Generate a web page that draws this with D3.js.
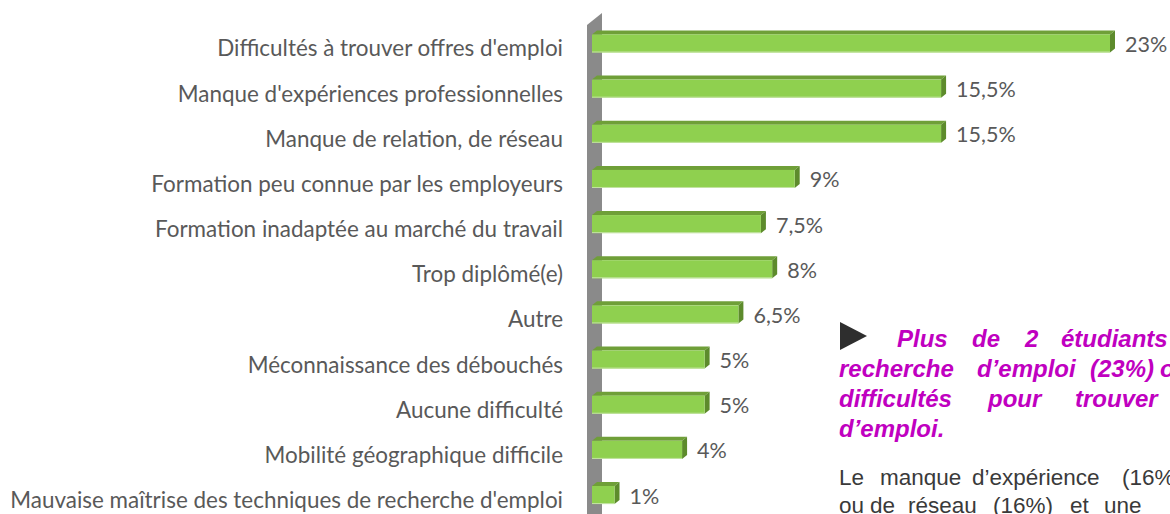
<!DOCTYPE html>
<html>
<head>
<meta charset="utf-8">
<script src="https://cdn.jsdelivr.net/npm/d3@7"></script>
<style>
  html, body { margin: 0; padding: 0; background: #ffffff; overflow: hidden; }
  svg { display: block; }
</style>
</head>
<body>
<svg id="chart" width="1170" height="514"></svg>
<script>
// Difficultés rencontrées dans la recherche d'emploi (% des étudiants)
const categories = [
  "Difficultés à trouver offres d'emploi",
  "Manque d'expériences professionnelles",
  "Manque de relation, de réseau",
  "Formation peu connue par les employeurs",
  "Formation inadaptée au marché du travail",
  "Trop diplômé(e)",
  "Autre",
  "Méconnaissance des débouchés",
  "Aucune difficulté",
  "Mobilité géographique difficile",
  "Mauvaise maîtrise des techniques de recherche d'emploi"
];
const values = [23, 15.5, 15.5, 9, 7.5, 8, 6.5, 5, 5, 4, 1];

// Commentary block beside the chart (justified lines, one word list per line)
const headlineLines = [
  ["Plus", "de", "2", "étudiants"],
  ["recherche", "d’emploi", "(23%)", "ont"],
  ["difficultés", "pour", "trouver"],
  ["d’emploi."]
];
const bodyLines = [
  ["Le", "manque", "d’expérience", "(16%)"],
  ["ou", "de", "réseau", "(16%)", "et", "une"]
];

const svg = d3.select("#chart");
const W = 1170, H = 514;

const fr = d3.formatLocale({ decimal: ",", thousands: " ", grouping: [3], currency: ["", " €"] });
const fmt = v => fr.format("~")(v) + "%";

// Scales
const x = d3.scaleLinear().domain([0, 23]).range([592, 1110]);
const y = d3.scaleBand().domain(categories).range([20.9, 517.6])
  .paddingInner(0.6).paddingOuter(0.3);

const depthX = 5, depthY = 4;
const colFront = "#8fd04f", colTop = "#6f9f38", colSide = "#5d8b2c";

// Side wall of the 3D plot
const wx0 = x(0) - 5, wx1 = x(0) + 10;
svg.append("polygon")
  .attr("points", [[wx0, 25], [wx1, 13], [wx1, H], [wx0, H]].map(p => p.join(",")).join(" "))
  .attr("fill", "#8a8a8a");

// 3D bars
const bars = svg.append("g").selectAll("g").data(categories).join("g");
bars.each(function (c, i) {
  const g = d3.select(this);
  const x0 = x(0), x1 = x(values[i]);
  const y0 = y(c), h = y.bandwidth();
  g.append("polygon")
    .attr("points", [[x0, y0], [x0 + depthX, y0 - depthY], [x1 + depthX, y0 - depthY], [x1, y0]].map(p => p.join(",")).join(" "))
    .attr("fill", colTop);
  g.append("polygon")
    .attr("points", [[x1, y0], [x1 + depthX, y0 - depthY], [x1 + depthX, y0 + h - depthY], [x1, y0 + h]].map(p => p.join(",")).join(" "))
    .attr("fill", colSide);
  g.append("rect")
    .attr("x", x0).attr("y", y0)
    .attr("width", x1 - x0).attr("height", h)
    .attr("fill", colFront);
  g.append("line")
    .attr("x1", x0).attr("x2", x1)
    .attr("y1", y0 + h - 0.5).attr("y2", y0 + h - 0.5)
    .attr("stroke", "#c4e3a4").attr("stroke-width", 1);
});

// Category labels, sized so the longest one fills the space left of the wall
const labelFont = "Lato, 'Open Sans', sans-serif";
const catLabels = svg.append("g").selectAll("text").data(categories).join("text")
  .attr("x", 563)
  .attr("y", c => y(c) + y.bandwidth() / 2 + 13)
  .attr("text-anchor", "end")
  .attr("font-family", labelFont)
  .attr("font-size", 20)
  .attr("fill", "#595959")
  .text(c => c);

let maxW = 0;
catLabels.each(function () { maxW = Math.max(maxW, this.getComputedTextLength()); });
const labelSize = 20 * 553 / maxW;
catLabels.attr("font-size", labelSize);

// Value labels at the end of each bar
svg.append("g").selectAll("text").data(categories).join("text")
  .attr("x", (c, i) => x(values[i]) + 15)
  .attr("y", c => y(c) + y.bandwidth() / 2 + 8.5)
  .attr("font-family", labelFont)
  .attr("font-size", labelSize * 0.96)
  .attr("fill", "#595959")
  .text((c, i) => fmt(values[i]));

// Commentary block
const note = svg.append("g");
note.append("polygon")
  .attr("points", "840,322 867,336 840,350")
  .attr("fill", "#2e2e2e");

const headX = [
  [897, 972, 1025, 1061],
  [839, 977, 1090, 1160],
  [839, 988, 1075],
  [839]
];
const headBase = [347, 377, 407, 437];
headlineLines.forEach((words, li) => {
  const t = note.append("text")
    .attr("y", headBase[li])
    .attr("font-family", "'Liberation Sans', Arial, sans-serif")
    .attr("font-size", 24)
    .attr("font-weight", "bold")
    .attr("font-style", "italic")
    .attr("fill", "#c000c0");
  words.forEach((w, wi) => t.append("tspan").attr("x", headX[li][wi]).text(w));
});

const bodyX = [
  [839, 880, 972, 1122],
  [839, 870, 908, 993, 1070, 1104]
];
const bodyBase = [485, 513];
bodyLines.forEach((words, li) => {
  const t = note.append("text")
    .attr("y", bodyBase[li])
    .attr("font-family", "'Liberation Sans', Arial, sans-serif")
    .attr("font-size", 22.5)
    .attr("fill", "#3a3a3a");
  words.forEach((w, wi) => t.append("tspan").attr("x", bodyX[li][wi]).text(w));
});
</script>
</body>
</html>
